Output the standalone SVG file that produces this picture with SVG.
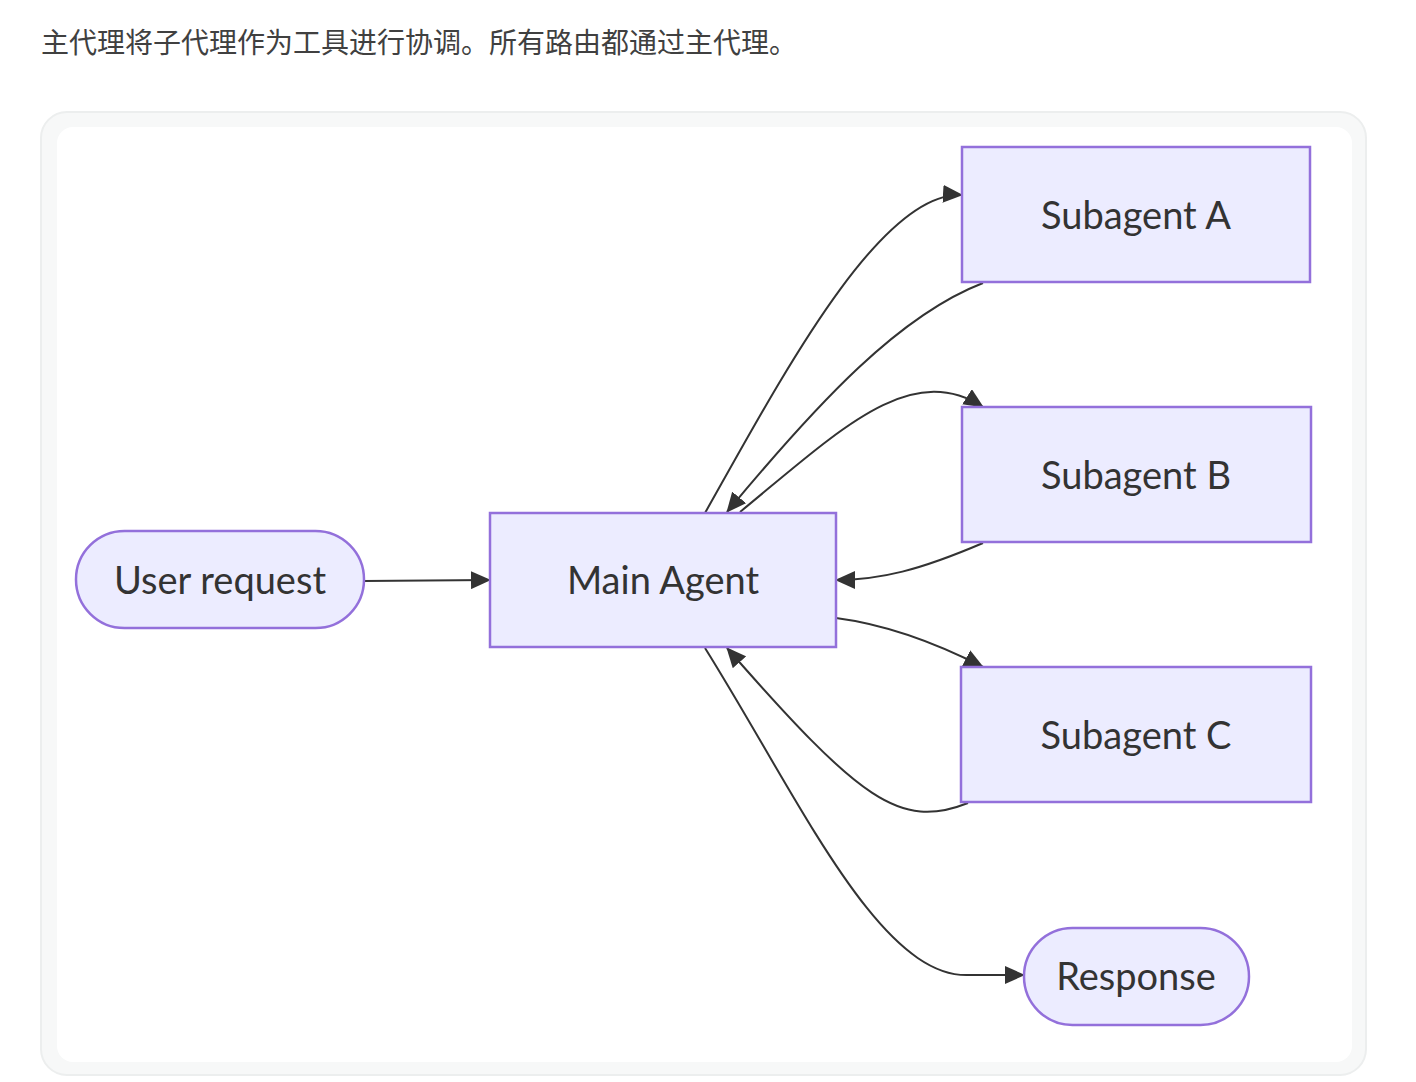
<svg xmlns="http://www.w3.org/2000/svg" width="1416" height="1082" viewBox="0 0 1416 1082">
<defs>
<style>
.n{fill:#ECECFF;stroke:#9370DB;stroke-width:2.5}
.t{font-family:Lato,"Open Sans","Noto Sans",sans-serif;font-size:38px;fill:#333;text-anchor:middle;dominant-baseline:central}
.e{fill:none;stroke:#333;stroke-width:2}
</style>
<marker id="a" markerUnits="userSpaceOnUse" markerWidth="20" markerHeight="18" refX="19" refY="9" orient="auto"><path d="M0,0 L20,9 L0,18 z" fill="#333"/></marker>
</defs>
<rect width="1416" height="1082" fill="#fff"/>
<text x="41" y="53" font-family="'Noto Sans CJK SC',sans-serif" font-size="28" fill="#404040">主代理将子代理作为工具进行协调。所有路由都通过主代理。</text>
<rect x="41" y="112" width="1325" height="963" rx="26" fill="#f7f8f8" stroke="#eceeee" stroke-width="2"/>
<rect x="57" y="127" width="1295" height="935" rx="16" fill="#fff"/>
<g id="connectors">
<path class="e" d="M364,581 L490,580" marker-end="url(#a)"/>
<path class="e" d="M705,513 C780,380 880,190 962,195" marker-end="url(#a)"/>
<path class="e" d="M983,283 C900,315 820,400 727,512" marker-end="url(#a)"/>
<path class="e" d="M740,512 C840,430 910,360 983,407" marker-end="url(#a)"/>
<path class="e" d="M983,543 C920,570 880,580 836,580" marker-end="url(#a)"/>
<path class="e" d="M836,618 C890,625 940,645 983,667" marker-end="url(#a)"/>
<path class="e" d="M968,803 C900,830 860,800 727,648" marker-end="url(#a)"/>
<path class="e" d="M705,648 C800,800 880,980 970,975 L1024,975" marker-end="url(#a)"/>
</g>
<g id="user"><rect class="n" x="76" y="531" width="288" height="97" rx="48.5"/><text class="t" x="220" y="579">User request</text></g>
<g id="main"><rect class="n" x="490" y="513" width="346" height="134"/><text class="t" x="663" y="579">Main Agent</text></g>
<g id="subA"><rect class="n" x="962" y="147" width="348" height="135"/><text class="t" x="1136" y="214">Subagent A</text></g>
<g id="subB"><rect class="n" x="962" y="407" width="349" height="135"/><text class="t" x="1136" y="474">Subagent B</text></g>
<g id="subC"><rect class="n" x="961" y="667" width="350" height="135"/><text class="t" x="1136" y="734">Subagent C</text></g>
<g id="resp"><rect class="n" x="1024" y="928" width="225" height="97" rx="48.5"/><text class="t" x="1136" y="975">Response</text></g>
</svg>
